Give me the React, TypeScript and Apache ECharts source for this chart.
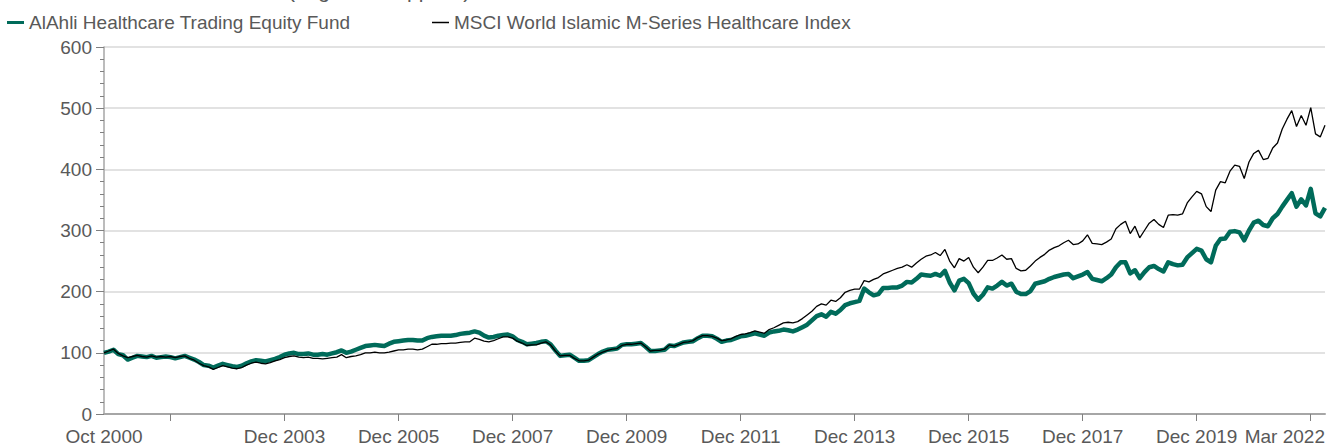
import React, { useEffect, useRef } from 'react';
import * as echarts from 'echarts';

const fundName = 'AlAhli Healthcare Trading Equity Fund';
const indexName = 'MSCI World Islamic M-Series Healthcare Index';
const subtitleText = '(Log Scale Applied)';

const monthNames = ['Jan', 'Feb', 'Mar', 'Apr', 'May', 'Jun', 'Jul', 'Aug', 'Sep', 'Oct', 'Nov', 'Dec'];
const startYear = 2000;
const startMonth = 9; // Oct
const monthCount = 258; // Oct 2000 .. Mar 2022
const categories = Array.from({ length: monthCount }, (_, i) => {
  const m = startMonth + i;
  return `${monthNames[m % 12]} ${startYear + Math.floor(m / 12)}`;
});

const labelledMonths = ['Oct 2000', 'Dec 2003', 'Dec 2005', 'Dec 2007', 'Dec 2009', 'Dec 2011', 'Dec 2013', 'Dec 2015', 'Dec 2017', 'Dec 2019', 'Mar 2022'];
const tickMonths = ['Dec 2001', 'Dec 2003', 'Dec 2005', 'Dec 2007', 'Dec 2009', 'Dec 2011', 'Dec 2013', 'Dec 2015', 'Dec 2017', 'Dec 2019', 'Dec 2021'];

const fundValues = [
  100, 102, 105, 98, 96, 89, 92, 95, 94, 93,
  95, 92, 93, 94, 93, 91, 93, 95, 92, 89,
  85, 80, 79, 76, 79, 82, 80, 78, 77, 79,
  83, 86, 88, 87, 86, 88, 90, 93, 97, 99,
  100, 98, 98, 99, 97, 97, 98, 97, 99, 101,
  104, 100, 102, 105, 108, 111, 112, 113, 112, 111,
  115, 118, 119, 120, 121, 121, 120, 120, 124, 126,
  127, 128, 128, 128, 129, 131, 132, 133, 135, 133,
  128, 125, 126, 128, 129, 130, 127, 121, 118, 114,
  115, 116, 118, 119, 114, 104, 95, 96, 97, 92,
  87, 87, 88, 93, 98, 102, 105, 106, 107, 113,
  114, 114, 115, 116, 110, 103, 103, 104, 105, 112,
  111, 114, 117, 118, 119, 124, 128, 128, 127, 123,
  118, 120, 121, 124, 127, 128, 130, 132, 130, 128,
  133, 135, 136, 138, 137, 135, 138, 142, 146, 153,
  160, 163, 159, 167, 164, 170, 178, 181, 183, 185,
  205, 199, 194, 196, 206, 206, 207, 207, 210, 216,
  215, 221, 228, 227, 226, 229, 226, 234, 215, 202,
  218, 221, 214, 197, 187, 195, 207, 205, 210, 216,
  210, 213, 200, 196, 196, 201, 213, 215, 217, 221,
  224, 226, 228, 229, 222, 225, 228, 232, 221, 219,
  217, 222, 228, 240, 248, 248, 230, 235, 222, 232,
  240, 242, 237, 233, 248, 245, 243, 244, 256, 263,
  270, 267, 253, 248, 275, 286, 287, 298, 299, 297,
  284, 300, 313, 316, 309, 307, 320, 327, 339, 350,
  361, 339, 351, 341, 368, 328, 323, 337,
];

const indexValues = [
  100, 103, 106, 99, 95, 92, 94, 96, 94, 93,
  95, 93, 94, 93, 94, 92, 94, 95, 91, 88,
  83, 79, 77, 73, 76, 79, 77, 75, 74, 76,
  80, 83, 85, 83, 82, 84, 87, 89, 92, 94,
  95, 93, 92, 93, 91, 91, 90, 91, 92, 93,
  97, 92, 94, 95, 97, 100, 100, 101, 100, 100,
  101, 103, 105, 105, 106, 106, 105, 106, 110, 114,
  114, 115, 115, 116, 116, 117, 118, 118, 124, 122,
  119, 118, 120, 123, 126, 126, 124, 119, 116, 112,
  113, 113, 116, 118, 113, 103, 95, 96, 96, 91,
  87, 87, 88, 93, 98, 101, 104, 106, 107, 112,
  114, 114, 115, 116, 110, 103, 104, 104, 106, 113,
  111, 114, 117, 118, 120, 125, 128, 128, 127, 124,
  120, 121, 123, 127, 130, 131, 133, 136, 134, 132,
  138, 141, 145, 149, 150, 149, 151, 156, 162, 168,
  176, 180, 178, 186, 184, 190, 199, 202, 204, 204,
  218, 216, 220, 223, 229, 232, 235, 238, 240, 244,
  240, 247, 253, 258, 260, 264, 259, 269, 250, 239,
  254, 250, 256, 240, 231, 240, 251, 251, 255, 260,
  253, 254, 238, 234, 235, 242, 250, 256, 261, 268,
  272, 275, 280, 284, 277, 278, 283, 293, 279, 278,
  277, 281, 286, 303, 310, 315, 295, 307, 288, 300,
  312, 318, 310, 305, 325, 326, 325, 327, 345, 355,
  364, 360, 339, 331, 366, 380, 378, 397, 407, 405,
  385, 412, 426, 431, 416, 418, 435, 443, 466, 482,
  496, 470, 488, 472, 501, 458, 453, 472,
];

const yMin = 0;
const yMax = 600;
const yInterval = 100;

const FONT = '"Liberation Sans", Arial, sans-serif';
const TEXT_COLOR = '#595959';
const FUND_COLOR = '#006b5a';
const INDEX_COLOR = '#000000';

export default function App() {
  const ref = useRef<HTMLDivElement>(null);

  useEffect(() => {
    if (!ref.current) return;
    const chart = echarts.init(ref.current, undefined, { renderer: 'svg' });
    const legendText = { color: TEXT_COLOR, fontSize: 19, fontFamily: FONT };
    chart.setOption({
      animation: false,
      textStyle: { fontFamily: FONT },
      grid: { left: 104, right: 9, top: 47, bottom: 27, containLabel: false },
      graphic: [
        {
          type: 'text',
          x: 288,
          y: 1,
          style: {
            text: subtitleText,
            fontSize: 21,
            fontFamily: FONT,
            fill: TEXT_COLOR,
            verticalAlign: 'bottom',
          },
        },
      ],
      legend: [
        {
          data: [{ name: fundName, icon: 'rect' }],
          left: 7,
          top: 13,
          padding: 0,
          itemWidth: 17,
          itemHeight: 3,
          selectedMode: false,
          textStyle: legendText,
        },
        {
          data: [{ name: indexName, icon: 'rect' }],
          left: 432,
          top: 13,
          padding: 0,
          itemWidth: 17,
          itemHeight: 1.5,
          selectedMode: false,
          textStyle: legendText,
        },
      ],
      xAxis: {
        type: 'category',
        data: categories,
        boundaryGap: false,
        axisLine: { show: true, lineStyle: { color: '#a6a6a6', width: 2 } },
        axisTick: {
          show: true,
          interval: (_i: number, v: string) => tickMonths.includes(v),
          length: 7,
          lineStyle: { color: '#808080', width: 1 },
        },
        axisLabel: {
          interval: (_i: number, v: string) => labelledMonths.includes(v),
          alignMaxLabel: 'right',
          fontSize: 19,
          color: TEXT_COLOR,
          fontFamily: FONT,
          margin: 13,
        },
        splitLine: { show: false },
      },
      yAxis: {
        type: 'value',
        min: yMin,
        max: yMax,
        interval: yInterval,
        axisLine: { show: true, lineStyle: { color: '#a6a6a6', width: 1.5 } },
        axisTick: { show: true, length: 8, lineStyle: { color: '#808080', width: 1 } },
        minorTick: { show: true, splitNumber: 5, length: 4, lineStyle: { color: '#808080', width: 1 } },
        splitLine: { show: true, lineStyle: { color: '#d9d9d9', width: 1.5 } },
        axisLabel: { fontSize: 19, color: TEXT_COLOR, fontFamily: FONT, margin: 12 },
      },
      series: [
        {
          name: fundName,
          type: 'line',
          data: fundValues,
          showSymbol: false,
          symbol: 'none',
          color: FUND_COLOR,
          lineStyle: { color: FUND_COLOR, width: 4.5, join: 'round' },
          z: 2,
        },
        {
          name: indexName,
          type: 'line',
          data: indexValues,
          showSymbol: false,
          symbol: 'none',
          color: INDEX_COLOR,
          lineStyle: { color: INDEX_COLOR, width: 1.3 },
          z: 3,
        },
      ],
    });
    return () => chart.dispose();
  }, []);

  return (
    <div
      ref={ref}
      style={{ position: 'fixed', left: 0, top: 0, width: 1334, height: 446, background: '#ffffff' }}
    />
  );
}
